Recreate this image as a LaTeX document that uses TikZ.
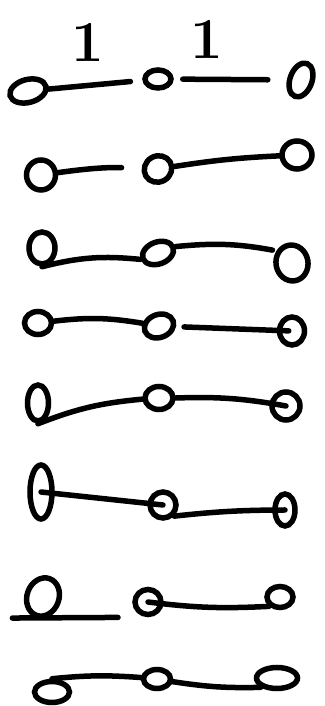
\documentclass[tikz,border=0pt]{standalone}
\usepackage{fontspec}
\usepackage{tikz}
\usetikzlibrary{shapes.geometric,arrows.meta,positioning,calc}

\begin{document}
\begin{tikzpicture}[
    x=1pt, y=1pt,
    oval/.style 2 args={ellipse, draw, line width=5.5pt, inner sep=0pt, minimum width=#1, minimum height=#2},
    link/.style={line width=5.5pt, line cap=round},
    weight/.style={font=\bfseries\fontsize{58}{58}\selectfont, inner sep=0pt}
]
    \useasboundingbox (0,0) rectangle (324,706);

    % --- Nodes ---
    % Row 1
    \node[oval={37pt}{23pt}, rotate=15] (a1) at (28,615) {};
    \node[oval={26pt}{18pt}] (b1) at (158,627) {};
    \node[oval={22pt}{35pt}, rotate=-20] (c1) at (301,626) {};
    \node[weight] (w1) at (88,664) {1};
    \node[weight] (w2) at (207,667) {1};

    % Row 2
    \node[oval={29pt}{30pt}] (a2) at (41,531) {};
    \node[oval={28pt}{26pt}, rotate=30] (b2) at (158,537) {};
    \node[oval={30pt}{28pt}] (c2) at (297,551) {};

    % Row 3
    \node[oval={26pt}{32pt}] (a3) at (42,458) {};
    \node[oval={32pt}{22pt}, rotate=20] (b3) at (158,453) {};
    \node[oval={32pt}{36pt}, rotate=10] (c3) at (292,443) {};

    % Row 4
    \node[oval={27pt}{23pt}] (a4) at (38,383) {};
    \node[oval={30pt}{23pt}, rotate=20] (b4) at (159,380) {};
    \node[oval={25pt}{28pt}] (c4) at (292,375) {};

    % Row 5
    \node[oval={21pt}{36pt}] (a5) at (38,303) {};
    \node[oval={28pt}{23pt}] (b5) at (159,308) {};
    \node[oval={28pt}{28pt}] (c5) at (286,300) {};

    % Row 6
    \node[oval={22pt}{54pt}] (a6) at (41,214) {};
    \node[oval={26pt}{26pt}] (b6) at (163,201) {};
    \node[oval={20pt}{32pt}] (c6) at (285,196) {};

    % Row 7
    \node[oval={32pt}{39pt}, rotate=-20] (a7) at (43,109) {};
    \node[oval={26pt}{25pt}] (b7) at (148,104) {};
    \node[oval={26pt}{21pt}] (c7) at (280,109) {};

    % Row 8
    \node[oval={35pt}{21pt}] (a8) at (52,14) {};
    \node[oval={27pt}{19pt}] (b8) at (157,27) {};
    \node[oval={41pt}{21pt}] (c8) at (277,28) {};

    % --- Edges ---
    \draw[link, shorten >=12pt] (a1) -- (b1);
    \draw[link, shorten <=9pt, shorten >=19pt] (b1) -- (c1);

    \draw[link, shorten >=20pt] (a2) to[bend left=5] (b2);
    \draw[link] (b2) to[bend left=3] (c2);

    \draw[link] (a3.south) to[bend left=10] (b3.west);
    \draw[link, shorten >=4pt] (b3.east) to[bend left=8] (c3.north west);

    \draw[link] (a4) to[bend left=8] (b4);
    \draw[link, shorten <=8pt, shorten >=-12pt] (b4) -- (c4);

    \draw[link] (a5.south) to[bend left=8] (b5);
    \draw[link] (b5.east) to[bend left=6] (c5.center);

    \draw[link] (a6.center) -- (b6.center);
    \draw[link] (b6.south east) to[bend left=3] (c6.center);

    \draw[link, shorten <=-23pt, shorten >=30pt] (a7.south) -- (b7.south);
    \draw[link] (b7.center) to[bend right=5] (c7.south west);

    \draw[link] (a8.north) to[bend left=5] (b8);
    \draw[link] (b8) to[bend right=5] (c8.south west);

\end{tikzpicture}
\end{document}
